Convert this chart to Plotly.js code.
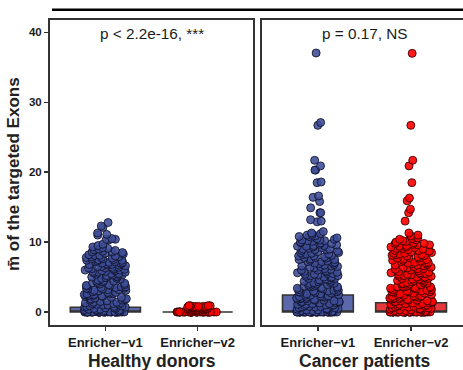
<!DOCTYPE html>
<html>
<head>
<meta charset="utf-8">
<script src="https://cdn.plot.ly/plotly-3.0.1.min.js"></script>
<style>
html,body{margin:0;padding:0;overflow:hidden;background:#fff;}
#chart{width:468px;height:370px;}
</style>
</head>
<body>
<div id="chart"></div>
<script>
// ---- data ----
const categories = ['Enricher\u2212v1', 'Enricher\u2212v2'];
const panelLabels = ['Healthy donors', 'Cancer patients'];
const pLabels = ['p < 2.2e-16, ***', 'p = 0.17, NS'];
const yTitle = 'm\u0304 of the targeted Exons';

// box summaries (v1, v2)
const healthyQ1 = [0, 0];
const healthyMedian = [0, 0];
const healthyQ3 = [0.67, 0];
const cancerQ1 = [0, 0];
const cancerMedian = [0, 0];
const cancerQ3 = [2.43, 1.33];

// individual samples
const healthyV1 = [
  0,0,0,0,0,0,0,0,0,0,0,0,0,0,0,0,0,0,0,0,0,0,0,0,0,0,0,0,0,0,0,0,0,0,0,0,0,0,0,0,
  0.1,0.2,0.3,0.3,0.5,0.4,0.7,0.6,0.9,0.8,1.1,1.3,1.0,1.6,1.4,1.9,1.7,2.2,2.0,2.5,
  2.3,2.8,2.6,0.4,1.2,1.8,2.1,2.9,3.1,3.4,3.2,3.7,3.5,3.9,4.2,3.6,4.5,4.1,3.0,3.3,
  4.8,4.4,3.8,5.0,4.7,2.4,5.3,5.1,5.6,5.9,5.4,6.1,6.4,5.7,6.0,6.7,6.3,7.0,6.6,7.3,
  6.9,7.6,7.2,5.5,5.8,6.2,6.8,7.5,7.8,7.1,7.9,6.5,5.2,7.4,7.7,8.0,6.1,5.9,7.0,6.4,
  3.4,2.7,3.9,4.3,4.9,5.4,1.5,2.2,0.6,0.9,
  0.2,0.5,0.8,1.1,1.4,1.9,2.3,2.6,3.1,3.5,3.8,4.0,4.6,5.1,5.5,6.0,6.5,6.9,7.2,7.6,
  0.3,0.7,1.0,1.3,1.7,2.1,2.5,2.8,3.2,3.6,4.4,4.8,5.3,5.7,6.2,6.7,7.1,7.5,7.8,8.1,
  1.2,2.4,3.3,4.2,5.0,5.8,6.3,6.8,7.4,7.9,
  8.1,8.3,8.2,8.6,8.5,8.9,8.7,9.1,9.3,9.0,9.5,9.7,8.4,8.8,9.2,8.6,
  10.3,10.4,10.4,10.5,11.0,11.1,11.3,12.1,12.3,12.8
];
const healthyV2 = [
  0,0,0,0,0,0,0,0,0,0,0,0,0,0,0,0,0,0,0,0,0,0,0,0,0,0,0,0,0,0,0,0,0,0,0,0,0,0,0,0,
  0.1,0.2,0.3,0.2,0.4,0.5,0.3,0.6,0.4,0.7,0.5,0.8,0.6,0.9,0.7,0.3,0.5,0.8,0.6,0.4,
  0.9,0.7,0.2,0.5,0.8,0.6,0.3,0.7,0.9,0.4,0.6,0.8,0.5,0.9,0.7
];
const cancerV1 = [
  0,0,0,0,0,0,0,0,0,0,0,0,0,0,0,0,0,0,0,0,0,0,0,0,0,0,0,0,0,0,0,0,0,0,0,0,0,0,0,0,0,0,0,0,0,
  0.1,0.2,0.3,0.4,0.3,0.6,0.5,0.8,0.7,1.0,0.9,1.2,1.1,1.4,1.3,1.6,1.5,1.8,1.7,2.0,
  1.9,2.2,2.1,2.4,2.3,0.2,0.5,0.9,1.2,1.6,2.0,2.3,0.4,0.8,1.1,1.5,1.9,2.2,0.6,1.0,
  1.4,1.8,2.4,0.3,0.7,1.3,1.7,2.1,2.5,2.6,
  2.8,3.0,2.9,3.3,3.1,3.6,3.4,3.9,3.7,4.2,4.0,4.5,4.3,4.8,4.6,5.1,4.9,5.4,5.2,5.7,
  5.5,6.0,5.8,2.7,3.2,3.8,4.4,5.0,5.6,3.5,4.1,4.7,5.3,5.9,3.0,3.6,4.2,4.8,5.4,2.9,
  6.2,6.5,6.3,6.8,6.6,7.1,6.9,7.4,7.2,7.7,7.5,8.0,7.8,8.3,8.1,8.6,8.4,8.9,8.7,9.2,
  9.0,9.5,9.3,9.8,9.6,10.1,9.9,6.4,7.0,7.6,8.2,8.8,9.4,10.0,6.7,7.3,7.9,8.5,9.1,9.7,
  2.6,3.1,3.7,4.1,4.6,5.2,5.7,6.1,6.6,7.2,7.8,8.3,8.9,9.4,9.9,3.4,4.4,5.5,6.5,7.5,
  8.5,9.5,2.8,3.9,5.0,6.0,7.0,8.0,9.0,10.2,
  10.3,10.2,10.5,10.7,10.4,10.9,10.6,11.1,10.8,11.3,11.0,11.5,11.2,10.3,10.8,
  12.9,13.0,13.2,14.2,14.2,14.9,15.8,16.4,16.6,18.5,18.6,20.3,20.3,20.9,21.7,26.7,27.1,37.05
];
const cancerV2 = [
  0,0,0,0,0,0,0,0,0,0,0,0,0,0,0,0,0,0,0,0,0,0,0,0,0,0,0,0,0,0,0,0,0,0,0,0,0,0,0,0,0,0,0,0,0,
  0.1,0.2,0.3,0.4,0.3,0.6,0.5,0.8,0.7,1.0,0.9,1.2,1.1,1.4,1.3,1.6,1.5,1.8,1.7,2.0,
  1.9,2.2,2.1,2.4,2.3,0.2,0.5,0.9,1.2,1.6,2.0,2.3,0.4,0.8,1.1,1.5,1.9,2.2,0.6,1.0,
  1.4,1.8,2.4,0.3,0.7,1.3,1.7,2.1,2.5,2.6,
  2.8,3.0,2.9,3.3,3.1,3.6,3.4,3.9,3.7,4.2,4.0,4.5,4.3,4.8,4.6,5.1,4.9,5.4,5.2,5.7,
  5.5,6.0,5.8,2.7,3.2,3.8,4.4,5.0,5.6,3.5,4.1,4.7,5.3,5.9,3.0,3.6,4.2,4.8,5.4,2.9,
  6.2,6.5,6.3,6.8,6.6,7.1,6.9,7.4,7.2,7.7,7.5,8.0,7.8,8.3,8.1,8.6,8.4,8.9,8.7,9.2,
  9.0,9.5,9.3,9.8,9.6,10.1,9.9,6.4,7.0,7.6,8.2,8.8,9.4,10.0,6.7,7.3,7.9,8.5,9.1,9.7,
  2.7,3.2,3.6,4.1,4.7,5.1,5.6,6.2,6.7,7.1,7.7,8.2,8.8,9.3,9.8,3.5,4.5,5.4,6.4,7.4,
  8.4,9.6,2.9,4.0,5.0,6.1,7.0,8.1,9.1,
  10.2,10.4,10.3,10.6,10.5,10.9,11.0,
  11.3,13.0,14.2,14.7,15.9,16.3,18.5,20.9,21.7,26.7,37.0
];

// ---- styling ----
const FONT = 'Arial, "Liberation Sans", sans-serif';
const boxFill = ['#5b69aa', '#e8383c'];
const ptFill = ['rgba(60,76,150,0.88)', 'rgba(255,0,0,0.9)'];
const ptLine = ['rgba(15,18,40,0.95)', 'rgba(45,0,0,0.95)'];

const panels = [
  {xa: 'x', ya: 'y', q1: healthyQ1, med: healthyMedian, q3: healthyQ3, vals: [healthyV1, healthyV2]},
  {xa: 'x2', ya: 'y2', q1: cancerQ1, med: cancerMedian, q3: cancerQ3, vals: [cancerV1, cancerV2]}
];

const traces = [];
panels.forEach(p => {
  categories.forEach((c, i) => {
    traces.push({
      type: 'box', xaxis: p.xa, yaxis: p.ya,
      x: [c], q1: [p.q1[i]], median: [p.med[i]], q3: [p.q3[i]],
      lowerfence: [p.q1[i]], upperfence: [p.q3[i]],
      width: 0.76, fillcolor: boxFill[i],
      line: {color: '#333333', width: 1.6},
      boxpoints: false, showlegend: false, hoverinfo: 'skip'
    });
  });
});
panels.forEach(p => {
  categories.forEach((c, i) => {
    traces.push({
      type: 'box', xaxis: p.xa, yaxis: p.ya,
      y: p.vals[i], x0: c, name: c + p.xa,
      width: 0.46, boxpoints: 'all', jitter: 1, pointpos: 0,
      fillcolor: 'rgba(0,0,0,0)', line: {color: 'rgba(0,0,0,0)', width: 0},
      marker: {color: ptFill[i], size: 8, line: {color: ptLine[i], width: 0.9}},
      showlegend: false, hoveron: 'points'
    });
  });
});

const W = 468, H = 370, L = 50, R = 1, T = 20, B = 45;
const pw = W - L - R, ph = H - T - B;
const xDom1 = [0, 203 / pw], xDom2 = [212 / pw, 1];

const axCommon = {
  showgrid: false, zeroline: false, showline: true, mirror: true,
  linecolor: '#333333', linewidth: 2,
  ticks: 'outside', ticklen: 4, tickwidth: 1.5, tickcolor: '#333333',
  tickfont: {family: FONT, size: 13, color: '#1a1a1a', weight: 'bold'}
};
const xCommon = Object.assign({}, axCommon, {
  type: 'category', categoryorder: 'array', categoryarray: categories,
  range: [-0.6, 1.6]
});
const yCommon = Object.assign({}, axCommon, {
  range: [-1.86, 41.77], tickvals: [0, 10, 20, 30, 40],
  tickfont: {family: FONT, size: 11.5, color: '#1a1a1a', weight: 'bold'}
});

const annotations = [];
[xDom1, xDom2].forEach((d, k) => {
  const cx = (d[0] + d[1]) / 2;
  annotations.push({
    xref: 'paper', yref: 'paper', x: cx, y: (325 - 361) / ph,
    text: panelLabels[k], showarrow: false, xanchor: 'center', yanchor: 'middle',
    font: {family: FONT, size: 17.5, color: '#222', weight: 'bold'}
  });
  annotations.push({
    xref: 'paper', yref: 'paper', x: cx, y: (325 - 34) / ph,
    text: pLabels[k], showarrow: false, xanchor: 'center', yanchor: 'middle',
    font: {family: FONT, size: 15.3, color: '#1a1a1a'}
  });
});
annotations.push({
  xref: 'paper', yref: 'paper', x: (14 - L) / pw, y: (325 - 174) / ph,
  text: yTitle, textangle: -90, showarrow: false, xanchor: 'center', yanchor: 'middle',
  font: {family: FONT, size: 17, color: '#222', weight: 'bold'}
});

const layout = {
  width: W, height: H,
  margin: {l: L, r: R, t: T, b: B, pad: 0},
  paper_bgcolor: '#ffffff', plot_bgcolor: '#ffffff',
  boxmode: 'overlay', showlegend: false,
  xaxis: Object.assign({}, xCommon, {domain: xDom1, anchor: 'y'}),
  xaxis2: Object.assign({}, xCommon, {domain: xDom2, anchor: 'y2'}),
  yaxis: Object.assign({}, yCommon, {anchor: 'x'}),
  yaxis2: Object.assign({}, yCommon, {anchor: 'x2', matches: 'y', showticklabels: false, ticks: ''}),
  annotations: annotations,
  shapes: [{
    type: 'line', xref: 'paper', yref: 'paper',
    x0: 2 / pw, x1: 1.02, y0: (325 - 9.7) / ph, y1: (325 - 9.7) / ph,
    line: {color: '#000', width: 2.5}
  }]
};

Plotly.newPlot('chart', traces, layout, {displayModeBar: false, staticPlot: true});
</script>
</body>
</html>
